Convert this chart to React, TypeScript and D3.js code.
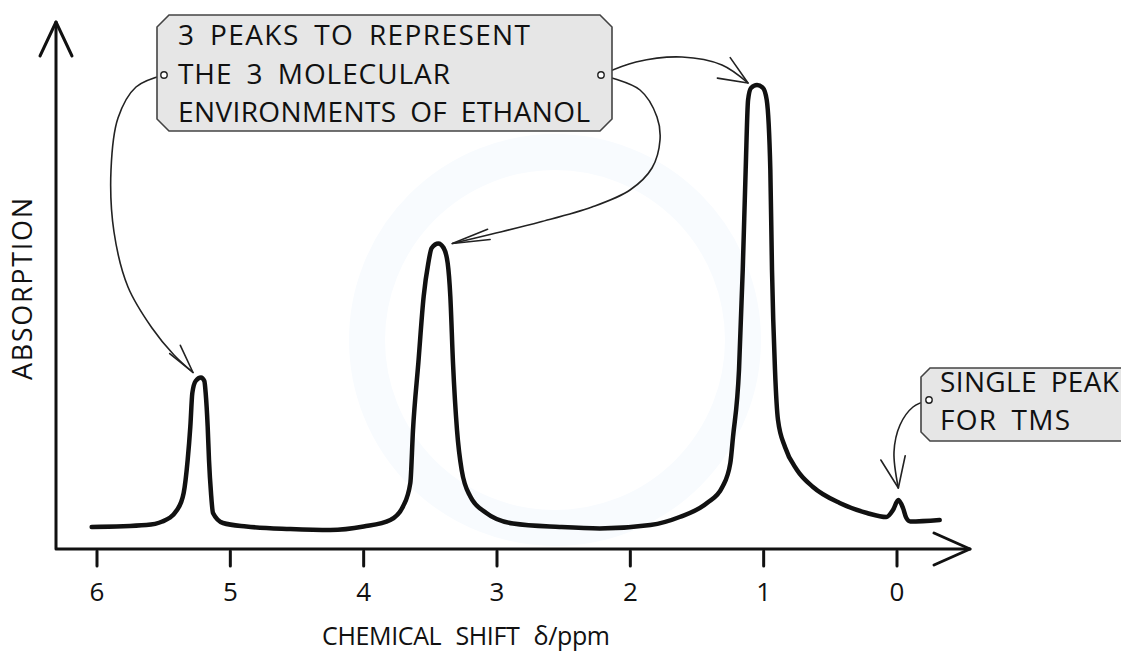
import React from "react";
import * as d3 from "d3";

// ---------- data ----------
const tickValues = [6, 5, 4, 3, 2, 1, 0];

// spectrum: chemical shift (ppm) and absorption (arbitrary units)
const spectrumPpm = [
  6.04, 5.63, 5.51, 5.4, 5.35, 5.32, 5.3, 5.285, 5.26, 5.22, 5.195, 5.185, 5.17, 5.16, 5.145, 5.13, 5.055, 4.88,
  4.55, 4.25, 4.0, 3.8, 3.705, 3.65, 3.63, 3.59, 3.55, 3.515, 3.49, 3.44, 3.4, 3.37, 3.35, 3.33, 3.3, 3.265, 3.2,
  3.08, 2.88, 2.53, 2.23, 1.85, 1.63, 1.425, 1.31, 1.25, 1.23, 1.185, 1.157, 1.135, 1.117, 1.095, 1.05, 1.005,
  0.977, 0.95, 0.9375, 0.915, 0.8925, 0.84, 0.75, 0.63, 0.43, 0.225, 0.08, 0.03, -0.01, -0.045, -0.07, -0.1, -0.32,
];
const spectrumAbs = [
  4.4, 4.8, 5.5, 7.8, 11.2, 17.8, 24.5, 31.2, 33.6, 34.3, 33.6, 31.2, 24.5, 17.8, 11.2, 7.2, 5.2, 4.5,
  4.0, 3.8, 4.5, 5.8, 8.5, 13.2, 23.8, 37.2, 50.5, 57.2, 60.2, 61.1, 60.2, 57.2, 50.5, 37.2, 23.8, 15.8, 10.5,
  7.2, 5.1, 4.4, 4.1, 4.8, 6.4, 9.2, 12.4, 17.2, 22.4, 35.8, 55.8, 75.8, 89.8, 92.2, 92.8, 92.2,
  89.8, 75.8, 55.8, 35.8, 25.8, 20.4, 15.8, 12.4, 9.2, 7.2, 6.4, 7.8, 9.8, 8.2, 6.2, 5.5, 5.8,
];

const mainNoteLines = ["3 PEAKS TO REPRESENT", "THE 3 MOLECULAR", "ENVIRONMENTS OF ETHANOL"];
const tmsNoteLines = ["SINGLE PEAK", "FOR TMS"];
const xTitle = "CHEMICAL SHIFT δ/ppm";
const yTitle = "ABSORPTION";

// peaks the annotations point at (ppm, absorption)
const peakEthanolA = { ppm: 5.22, abs: 34.3 };
const peakEthanolB = { ppm: 3.44, abs: 61.1 };
const peakEthanolC = { ppm: 1.05, abs: 92.8 };
const peakTms = { ppm: -0.01, abs: 9.8 };

// ---------- layout ----------
const W = 1121;
const H = 656;
const FONT = "'Open Sans', 'Noto Sans', sans-serif";
const INK = "#111";

const x = d3.scaleLinear().domain([6, 0]).range([97, 897]);
const y = d3.scaleLinear().domain([0, 100]).range([549, 49]);

const axisX0 = 56;
const axisY0 = 549;
const xAxisEnd = 970;
const yAxisEnd = 22;

function chamferPath(x0: number, y0: number, x1: number, y1: number, c: number) {
  return `M${x0 + c},${y0} L${x1 - c},${y0} L${x1},${y0 + c} L${x1},${y1 - c} L${x1 - c},${y1} L${x0 + c},${y1} L${x0},${y1 - c} L${x0},${y0 + c} Z`;
}

function arrowHead(tip: [number, number], backDeg: number, spread: number, len: number) {
  const a1 = ((backDeg - spread) * Math.PI) / 180;
  const a2 = ((backDeg + spread) * Math.PI) / 180;
  const p1 = [tip[0] + len * Math.cos(a1), tip[1] + len * Math.sin(a1)];
  const p2 = [tip[0] + len * Math.cos(a2), tip[1] + len * Math.sin(a2)];
  return `M${p1[0]},${p1[1]} L${tip[0]},${tip[1]} L${p2[0]},${p2[1]}`;
}

const connector = d3.line<[number, number]>().curve(d3.curveCatmullRom.alpha(0.5));

export default function App() {
  const pts: [number, number][] = spectrumPpm.map((p, i) => [x(p), y(spectrumAbs[i])]);
  const spectrumPath = d3.line<[number, number]>().curve(d3.curveMonotoneX)(pts) || "";

  const tipA: [number, number] = [x(peakEthanolA.ppm) - 8, y(peakEthanolA.abs) - 5];
  const tipB: [number, number] = [x(peakEthanolB.ppm) + 14, y(peakEthanolB.abs)];
  const tipC: [number, number] = [x(peakEthanolC.ppm) - 9, y(peakEthanolC.abs) - 2];
  const tipT: [number, number] = [x(peakTms.ppm), y(peakTms.abs) - 12];

  const leftDot: [number, number] = [164, 75];
  const rightDot: [number, number] = [601, 75];
  const tmsDot: [number, number] = [929, 400];

  const connA = connector([
    leftDot, [136, 87], [118, 118], [111, 170], [114, 232], [128, 287], [152, 328], [174, 355], tipA,
  ]) || "";
  const connC = connector([rightDot, [636, 62], [682, 57], [722, 65], tipC]) || "";
  const connB = connector([
    rightDot, [640, 90], [657, 117], [660, 140], [652, 168], [630, 190], [592, 207], [540, 222], [492, 234], tipB,
  ]) || "";
  const connT = connector([tmsDot, [913, 407], [900, 425], [894, 452], tipT]) || "";

  return (
    <svg width={W} height={H} style={{ position: "absolute", left: 0, top: 0, background: "#fff" }}>
      {/* faint watermark */}
      <circle cx={555} cy={340} r={188} fill="none" stroke="#f8fbfe" strokeWidth={36} />

      {/* axes */}
      <g stroke={INK} strokeWidth={3} fill="none" strokeLinecap="round" strokeLinejoin="round">
        <path d={`M${axisX0},${yAxisEnd} L${axisX0},${axisY0} L${xAxisEnd},${axisY0}`} />
        <path d={`M${axisX0 - 16},${yAxisEnd + 34} L${axisX0},${yAxisEnd} L${axisX0 + 16},${yAxisEnd + 34}`} />
        <path d={`M${xAxisEnd - 36},${axisY0 - 16} L${xAxisEnd},${axisY0} L${xAxisEnd - 36},${axisY0 + 16}`} />
        {tickValues.map((t) => (
          <line key={t} x1={x(t)} x2={x(t)} y1={axisY0 + 2} y2={axisY0 + 17} />
        ))}
      </g>
      {tickValues.map((t) => (
        <text key={t} x={x(t)} y={601} textAnchor="middle" fontFamily={FONT} fontSize={26} fill={INK}>
          {t}
        </text>
      ))}
      <text
        x={322}
        y={645}
        fontFamily={FONT}
        fontSize={25}
        wordSpacing={8}
        fill={INK}
        textLength={288}
        lengthAdjust="spacing"
      >
        {xTitle}
      </text>
      <text
        transform="translate(32,289) rotate(-90)"
        textAnchor="middle"
        fontFamily={FONT}
        fontSize={27}
        fill={INK}
        textLength={182}
        lengthAdjust="spacing"
      >
        {yTitle}
      </text>

      {/* spectrum */}
      <path d={spectrumPath} fill="none" stroke={INK} strokeWidth={4.5} strokeLinejoin="round" strokeLinecap="round" />

      {/* connectors */}
      <g fill="none" stroke="#222" strokeWidth={1.6} strokeLinecap="round" strokeLinejoin="round">
        <path d={connA} />
        <path d={arrowHead(tipA, 232, 13, 30)} />
        <path d={connC} />
        <path d={arrowHead(tipC, 212, 23, 31)} />
        <path d={connB} />
        <path d={arrowHead(tipB, -14, 8, 38)} />
        <path d={connT} />
        <path d={arrowHead(tipT, 260, 22, 33)} />
      </g>

      {/* main note box */}
      <path d={chamferPath(157, 15, 612, 131, 12)} fill="#e6e6e6" stroke="#444" strokeWidth={1.6} />
      {mainNoteLines.map((l, i) => (
        <text
          key={l}
          x={178}
          y={45 + i * 38.5}
          fontFamily={FONT}
          fontSize={28}
          wordSpacing={6}
          fill={INK}
          textLength={[352, 272, 412][i]}
          lengthAdjust="spacing"
        >
          {l}
        </text>
      ))}
      <circle cx={leftDot[0]} cy={leftDot[1]} r={3.2} fill="#fff" stroke="#222" strokeWidth={1.4} />
      <circle cx={rightDot[0]} cy={rightDot[1]} r={3.2} fill="#fff" stroke="#222" strokeWidth={1.4} />

      {/* TMS note box */}
      <path d={chamferPath(921, 368, 1150, 441, 9)} fill="#e6e6e6" stroke="#444" strokeWidth={1.6} />
      {tmsNoteLines.map((l, i) => (
        <text
          key={l}
          x={940}
          y={392 + i * 38}
          fontFamily={FONT}
          fontSize={28}
          wordSpacing={6}
          fill={INK}
          textLength={[179, 130][i]}
          lengthAdjust="spacing"
        >
          {l}
        </text>
      ))}
      <circle cx={tmsDot[0]} cy={tmsDot[1]} r={3.2} fill="#fff" stroke="#222" strokeWidth={1.4} />
    </svg>
  );
}
